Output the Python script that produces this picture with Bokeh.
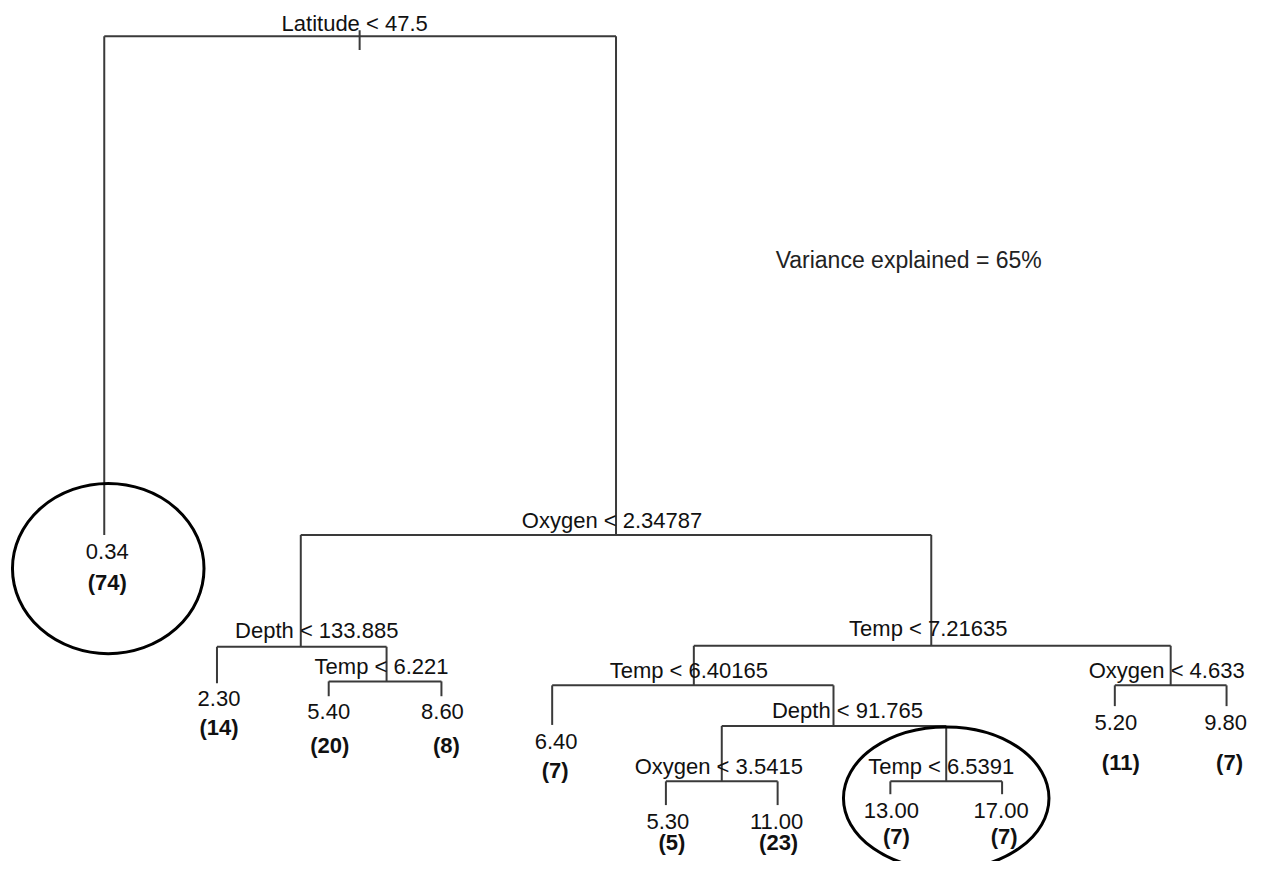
from bokeh.plotting import figure
from bokeh.models import ColumnDataSource, Range1d
from bokeh.core.properties import value
from bokeh.embed import file_html
from bokeh.resources import INLINE

# ---------------- data (regression tree) ----------------
split_vars = ["Latitude", "Oxygen", "Depth", "Temp", "Temp", "Temp", "Depth", "Oxygen", "Temp", "Oxygen"]
split_thresholds = ["47.5", "2.34787", "133.885", "6.221", "7.21635", "6.40165", "91.765", "3.5415", "6.5391", "4.633"]
leaf_means = ["0.34", "2.30", "5.40", "8.60", "6.40", "5.30", "11.00", "13.00", "17.00", "5.20", "9.80"]
leaf_counts = [74, 14, 20, 8, 7, 5, 23, 7, 7, 11, 7]
variance_explained = 65

# ---------------- layout (drawing positions, in picture units) ----------------
split_x = [360, 617, 301, 387, 933, 695, 835, 723, 948, 1173]
split_bar_y = [36, 540, 653, 688, 652, 692, 733, 789, 789, 692]
split_stem_top = [30, 36, 540, 653, 540, 652, 692, 733, 733, 652]
split_stem_bottom = [50, 540, 653, 688, 652, 692, 733, 789, 789, 692]
bar_left = [104, 301, 217, 329, 695, 553, 723, 667, 892, 1117]
bar_right = [617, 933, 387, 442, 1173, 835, 948, 779, 1004, 1229]
split_lab_x = [355, 613, 317, 382, 930, 690, 849, 720, 943, 1169]
split_lab_y = [23, 525, 637, 673, 635, 677, 717, 774, 774, 677]

leaf_x = [104, 217, 329, 442, 553, 667, 779, 892, 1004, 1117, 1229]
leaf_top = [36, 653, 688, 688, 692, 789, 789, 789, 789, 692, 692]
leaf_end = [540, 690, 703, 703, 732, 813, 813, 802, 802, 713, 713]
mean_lab_x = [107, 219, 329, 443, 557, 669, 778, 893, 1003, 1118, 1228]
mean_lab_y = [557, 705, 718, 718, 749, 830, 830, 818, 818, 730, 730]
cnt_lab_x = [107, 219, 330, 447, 556, 673, 780, 898, 1006, 1123, 1232]
cnt_lab_y = [588, 735, 753, 753, 778, 851, 851, 845, 845, 770, 770]

ell_x = [108, 948]
ell_y = [574, 806]
ell_w = [192, 206]
ell_h = [172, 144]

FONT = value("Liberation Sans")
LINE = "#3a3a3a"
TXT = "#111111"

p = figure(width=1247, height=861, output_backend="svg", toolbar_location=None,
           x_range=Range1d(0, 1250), y_range=Range1d(870, 0),
           min_border=0)
p.axis.visible = False
p.grid.visible = False
p.outline_line_color = None
p.background_fill_color = "white"

# horizontal bars of the splits
bars = ColumnDataSource(dict(x0=bar_left, x1=bar_right, y=split_bar_y))
p.segment(x0="x0", y0="y", x1="x1", y1="y", source=bars, line_color=LINE, line_width=2)

# split stems
stems = ColumnDataSource(dict(x=split_x, y0=split_stem_top, y1=split_stem_bottom))
p.segment(x0="x", y0="y0", x1="x", y1="y1", source=stems, line_color=LINE, line_width=2)

# leaf stems
leaves = ColumnDataSource(dict(x=leaf_x, y0=leaf_top, y1=leaf_end))
p.segment(x0="x", y0="y0", x1="x", y1="y1", source=leaves, line_color=LINE, line_width=2)

# split labels
split_text = [f"{v} < {t}" for v, t in zip(split_vars, split_thresholds)]
p.text(x=split_lab_x, y=split_lab_y, text=split_text, text_font=FONT,
       text_font_size="22px", text_align="center", text_baseline="middle", text_color=TXT)

# leaf labels
p.text(x=mean_lab_x, y=mean_lab_y, text=leaf_means, text_font=FONT,
       text_font_size="22px", text_align="center", text_baseline="middle", text_color=TXT)
p.text(x=cnt_lab_x, y=cnt_lab_y, text=[f"({n})" for n in leaf_counts], text_font=FONT,
       text_font_size="22px", text_font_style="bold", text_align="center",
       text_baseline="middle", text_color=TXT)

# highlight ellipses
p.ellipse(x=ell_x, y=ell_y, width=ell_w, height=ell_h, fill_color=None,
          line_color="black", line_width=3)

# annotation
p.text(x=[777], y=[262], text=[f"Variance explained = {variance_explained}%"], text_font=FONT,
       text_font_size="23px", text_align="left", text_baseline="middle", text_color="#222222")

open("out.html", "w").write(file_html(p, INLINE))
